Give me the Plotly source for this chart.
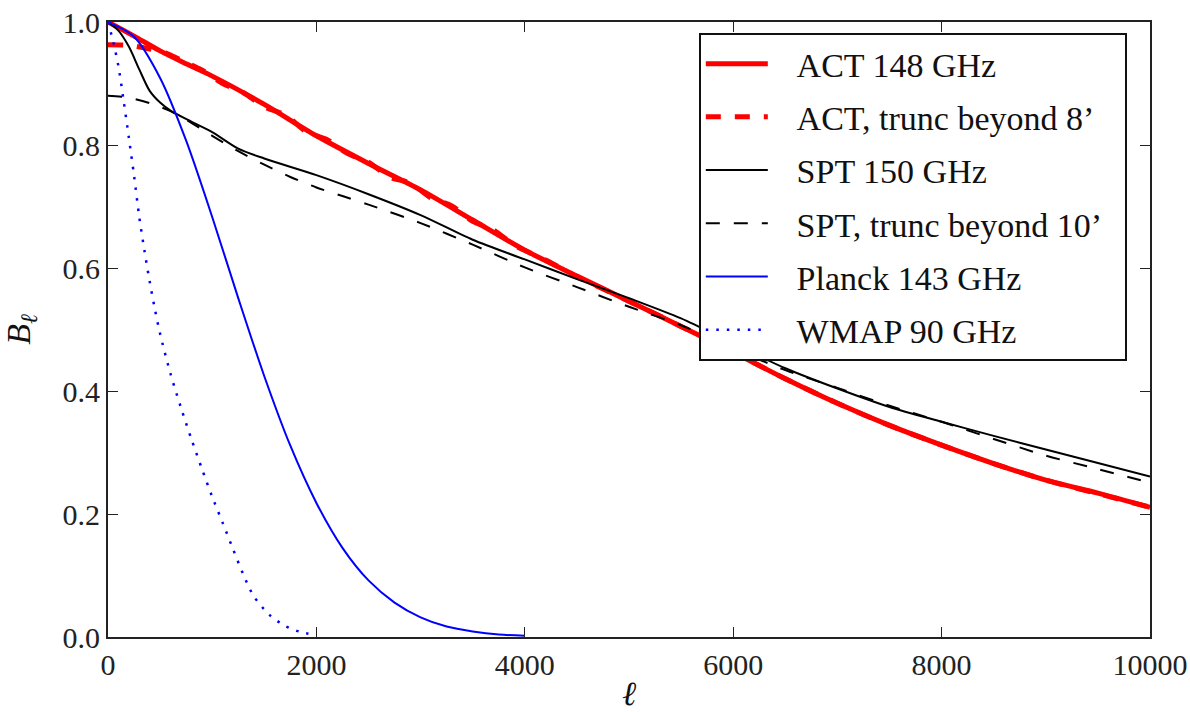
import plotly.graph_objects as go

# Beam transfer functions B_ell for several CMB experiments
ell_act = [0, 250, 500, 750, 1000, 1500, 2000, 2500, 3000, 3500, 4000, 4500,
           5000, 5500, 6000, 6500, 7000, 7500, 8000, 8500, 9000, 9500, 10000]
b_act = [1.0, 0.977, 0.953, 0.932, 0.912, 0.866, 0.815, 0.770, 0.727, 0.678, 0.629, 0.587,
         0.546, 0.505, 0.463, 0.420, 0.380, 0.344, 0.312, 0.282, 0.255, 0.234, 0.211]

ell_act_tr = [0, 200, 400, 550, 700, 900, 1100, 1300, 1500, 1700, 1900, 2100, 2300, 2500,
              2700, 2900, 3100, 3300, 3500, 3700, 3900, 4200, 4500, 5000, 5500, 6000,
              6500, 7000, 7500, 8000, 8500, 9000, 9500, 10000]
b_act_tr = [0.963, 0.962, 0.956, 0.950, 0.938, 0.922, 0.900, 0.885, 0.862, 0.849, 0.822,
            0.809, 0.786, 0.772, 0.748, 0.738, 0.714, 0.701, 0.676, 0.662, 0.637, 0.613,
            0.586, 0.546, 0.505, 0.463, 0.420, 0.380, 0.344, 0.312, 0.282, 0.255, 0.233, 0.211]

ell_spt = [0, 100, 200, 300, 400, 500, 600, 800, 1000, 1250, 1500, 2000, 2500, 3000,
           3500, 4000, 4500, 5000, 5500, 6000, 6500, 7000, 7500, 8000, 8500, 9000, 9500, 10000]
b_spt = [1.0, 0.986, 0.960, 0.923, 0.888, 0.869, 0.856, 0.838, 0.821, 0.794, 0.778, 0.751,
         0.720, 0.686, 0.646, 0.614, 0.582, 0.551, 0.518, 0.477, 0.437, 0.404, 0.374, 0.350,
         0.327, 0.305, 0.283, 0.261]

ell_spt_tr = [0, 200, 400, 600, 800, 1000, 1250, 1500, 1750, 2000, 2250, 2500, 3000, 3500,
              4000, 4500, 5000, 5500, 6000, 6500, 7000, 7500, 8000, 8500, 9000, 9500, 10000]
b_spt_tr = [0.880, 0.877, 0.868, 0.855, 0.836, 0.815, 0.790, 0.768, 0.748, 0.731, 0.717,
            0.703, 0.673, 0.638, 0.601, 0.569, 0.537, 0.507, 0.469, 0.434, 0.405, 0.376,
            0.350, 0.322, 0.295, 0.273, 0.251]

ell_planck = [0, 250, 500, 750, 1000, 1250, 1500, 1750, 2000, 2250, 2500, 2750, 3000,
              3250, 3500, 3750, 4000]
b_planck = [1.0, 0.976, 0.909, 0.807, 0.683, 0.551, 0.424, 0.311, 0.218, 0.145, 0.092,
            0.056, 0.032, 0.017, 0.009, 0.004, 0.002]

ell_wmap = [0, 50, 100, 150, 200, 250, 300, 350, 400, 450, 500, 600, 700, 800, 900, 1000,
            1100, 1200, 1300, 1400, 1550, 1700, 1850, 2000]
b_wmap = [1.0, 0.968, 0.928, 0.872, 0.812, 0.750, 0.683, 0.628, 0.578, 0.533, 0.493, 0.428,
          0.373, 0.322, 0.274, 0.228, 0.186, 0.143, 0.101, 0.066, 0.036, 0.018, 0.008, 0.003]

x_ticks = [0, 2000, 4000, 6000, 8000, 10000]
y_ticks = [0.0, 0.2, 0.4, 0.6, 0.8, 1.0]
y_tick_text = ["0.0", "0.2", "0.4", "0.6", "0.8", "1.0"]

FONT = "Liberation Serif"
LEAD = "\u2002\u2009"   # gap between the legend line sample and its label
TRAIL = "\u2002"        # right-hand breathing room inside the legend box

series = [
    ("ACT 148 GHz", ell_act, b_act, "#ff0000", 5, "solid"),
    ("ACT, trunc beyond 8\u2019", ell_act_tr, b_act_tr, "#ff0000", 5, "15px,14px"),
    ("SPT 150 GHz", ell_spt, b_spt, "#000000", 2, "solid"),
    ("SPT, trunc beyond 10\u2019", ell_spt_tr, b_spt_tr, "#000000", 2, "14px,14px"),
    ("Planck 143 GHz", ell_planck, b_planck, "#0000ff", 2, "solid"),
    ("WMAP 90 GHz", ell_wmap, b_wmap, "#0000ff", 2.5, "2.5px,8px"),
]

fig = go.Figure()
for i, (name, xs, ys, color, width, dash) in enumerate(series):
    fig.add_trace(go.Scatter(
        x=xs, y=ys, name=LEAD + name + TRAIL, mode="lines", legendgroup=f"g{i}",
        line=dict(color=color, width=width, dash=dash, shape="spline", smoothing=0.8),
    ))

axis_common = dict(
    showline=True, linecolor="#222222", linewidth=1.8, mirror="allticks",
    ticks="inside", ticklen=10, tickwidth=1.3, tickcolor="#222222",
    showgrid=False, zeroline=False, automargin=False,
    tickfont=dict(family=FONT, size=30, color="#222222"),
)

fig.update_layout(
    width=1190, height=712,
    margin=dict(l=108, r=40, t=22, b=75, autoexpand=False),
    paper_bgcolor="white", plot_bgcolor="white",
    font=dict(family=FONT, color="#111111"),
    xaxis=dict(range=[0, 10000], tickvals=x_ticks, ticktext=[str(v) for v in x_ticks],
               title=dict(text="<i>\u2113</i>", font=dict(family=FONT, size=34), standoff=3),
               **axis_common),
    yaxis=dict(range=[0, 1.0], tickvals=y_ticks, ticktext=y_tick_text,
               title=dict(text="<i>B</i><sub><i>\u2113</i></sub>", font=dict(family=FONT, size=34),
                          standoff=22),
               **axis_common),
    legend=dict(
        x=0.567, y=0.982, xanchor="left", yanchor="top",
        bgcolor="white", bordercolor="#111111", borderwidth=2,
        font=dict(family=FONT, size=34, color="#111111"),
        tracegroupgap=6, itemwidth=62,
    ),
    showlegend=True,
)

fig.write_html("out.html")
